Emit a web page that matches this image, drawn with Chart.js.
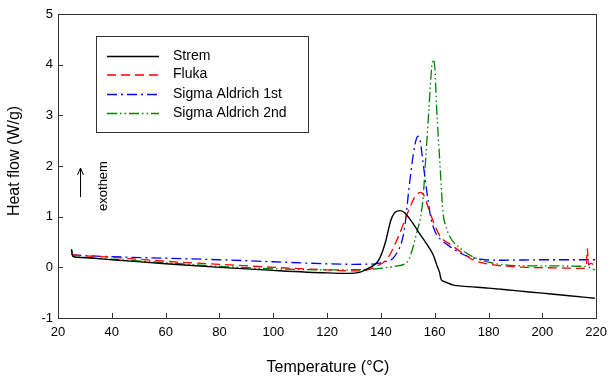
<!DOCTYPE html>
<html>
<head>
<meta charset="utf-8">
<script src="https://cdn.jsdelivr.net/npm/chart.js"></script>
<style>
html,body{margin:0;padding:0;background:#fff;}
</style>
</head>
<body>
<canvas id="graphCanvas" width="614" height="380"></canvas>
<script>
// tick values
var xTicks = [20, 40, 60, 80, 100, 120, 140, 160, 180, 200, 220];
var yTicks = [-1, 0, 1, 2, 3, 4, 5];

// Strem
var stremT  = [25, 25.5, 27, 40, 60, 80, 100, 120, 128, 132, 135, 137, 138.8, 140.5, 141.9, 143.7, 145, 147.2, 149, 150.5, 152.4, 154.2, 156, 157.8, 159.5, 161, 161.8, 162.4, 163.5, 167, 170, 180, 190, 200, 210, 219.5];
var stremHF = [0.35, 0.22, 0.2, 0.15, 0.07, 0.0, -0.06, -0.11, -0.12, -0.1, -0.03, 0.03, 0.11, 0.3, 0.54, 0.93, 1.07, 1.12, 1.07, 0.97, 0.83, 0.68, 0.54, 0.4, 0.24, 0.01, -0.1, -0.24, -0.28, -0.35, -0.37, -0.41, -0.46, -0.51, -0.56, -0.61];

// Fluka
var flukaT  = [25, 27, 40, 60, 80, 100, 120, 130, 135, 138.8, 142.5, 146.2, 149.9, 152.5, 153.8, 154.8, 156, 157.3, 159.7, 162.2, 165.9, 169.6, 174.5, 181.9, 194, 205, 215, 216.3, 216.7, 217.2, 218, 219.6];
var flukaHF = [0.26, 0.24, 0.2, 0.12, 0.06, 0.0, -0.05, -0.07, -0.05, 0.03, 0.18, 0.57, 1.07, 1.38, 1.46, 1.48, 1.42, 1.23, 0.87, 0.6, 0.45, 0.31, 0.14, 0.05, 0.0, -0.01, -0.02, 0.0, 0.37, 0.05, 0.08, 0.03];

// Sigma Aldrich 1st
var sigma1T  = [25, 27, 40, 60, 80, 100, 120, 130, 138, 142, 145, 148.7, 150.5, 152.1, 153.1, 153.8, 154.6, 155.4, 157, 158.5, 160, 162.2, 164.6, 167, 172, 177, 185, 200, 219.6];
var sigma1HF = [0.25, 0.24, 0.21, 0.18, 0.15, 0.11, 0.07, 0.06, 0.07, 0.12, 0.21, 0.74, 1.59, 2.25, 2.52, 2.59, 2.5, 2.18, 1.52, 1.0, 0.72, 0.55, 0.45, 0.36, 0.22, 0.16, 0.14, 0.15, 0.15];

// Sigma Aldrich 2nd
var sigma2T  = [25, 25.5, 27, 40, 60, 80, 100, 120, 135, 145, 149.9, 151.1, 153.6, 154.8, 155.7, 156.7, 157.9, 158.9, 159.5, 160.1, 160.7, 162, 163.1, 164.1, 165.9, 169.6, 174.5, 181.9, 194, 215.8, 219.6];
var sigma2HF = [0.36, 0.22, 0.2, 0.16, 0.09, 0.02, -0.03, -0.05, -0.04, 0.02, 0.11, 0.25, 0.74, 1.0, 1.39, 2.18, 3.17, 3.95, 4.1, 3.9, 3.17, 1.99, 1.07, 0.82, 0.58, 0.37, 0.2, 0.08, 0.03, 0.02, -0.05];

var seriesNames = ['Strem', 'Fluka', 'Sigma Aldrich 1st', 'Sigma Aldrich 2nd'];

function toPoints(t, v) {
  var pts = [];
  for (var i = 0; i < t.length; i++) {
    pts.push({x: t[i], y: v[i]});
  }
  return pts;
}

var FONT = '"Liberation Sans", Arial, sans-serif';

var datasets = [
  {label: seriesNames[0], data: toPoints(stremT, stremHF), borderColor: '#000000', borderWidth: 1.4, borderDash: []},
  {label: seriesNames[1], data: toPoints(flukaT, flukaHF), borderColor: '#ff0000', borderWidth: 1.3, borderDash: [9, 5]},
  {label: seriesNames[2], data: toPoints(sigma1T, sigma1HF), borderColor: '#0000ff', borderWidth: 1.3, borderDash: [10, 4, 2, 4]},
  {label: seriesNames[3], data: toPoints(sigma2T, sigma2HF), borderColor: '#008000', borderWidth: 1.3, borderDash: [10, 3, 1.5, 3, 1.5, 3]}
];
for (var d = 0; d < datasets.length; d++) {
  datasets[d].showLine = true;
  datasets[d].pointRadius = 0;
  datasets[d].fill = false;
  datasets[d].cubicInterpolationMode = 'monotone';
}

var frameAndNotes = {
  id: 'frameAndNotes',
  afterDraw: function (chart) {
    var ctx = chart.ctx;
    var a = chart.chartArea;
    var xs = chart.scales.x;
    var ys = chart.scales.y;
    ctx.save();
    ctx.strokeStyle = '#333';
    ctx.lineWidth = 1;
    ctx.setLineDash([]);
    ctx.strokeRect(Math.round(a.left) + 0.5, Math.round(a.top) + 0.5, Math.round(a.right - a.left), Math.round(a.bottom - a.top));

    // inward ticks
    ctx.beginPath();
    for (var i = 1; i < xTicks.length - 1; i++) {
      var px = Math.round(xs.getPixelForValue(xTicks[i])) + 0.5;
      ctx.moveTo(px, a.bottom);
      ctx.lineTo(px, a.bottom - 5);
    }
    for (var j = 1; j < yTicks.length - 1; j++) {
      var py = Math.round(ys.getPixelForValue(yTicks[j])) + 0.5;
      ctx.moveTo(a.left, py);
      ctx.lineTo(a.left + 5, py);
    }
    ctx.stroke();

    // axis titles
    ctx.fillStyle = '#000';
    ctx.font = '16px ' + FONT;
    ctx.textAlign = 'center';
    ctx.textBaseline = 'middle';
    ctx.fillText('Temperature (\u00B0C)', 328, 368);
    ctx.save();
    ctx.translate(15, 161);
    ctx.rotate(-Math.PI / 2);
    ctx.fillText('Heat flow (W/g)', 0, 0);
    ctx.restore();

    // exotherm arrow
    ctx.strokeStyle = '#000';
    ctx.beginPath();
    ctx.moveTo(80.5, 197);
    ctx.lineTo(80.5, 168);
    ctx.moveTo(77.5, 175);
    ctx.lineTo(80.5, 168);
    ctx.lineTo(83.5, 175);
    ctx.stroke();
    ctx.save();
    ctx.translate(103, 186);
    ctx.rotate(-Math.PI / 2);
    ctx.font = '13px ' + FONT;
    ctx.fillText('exothem', 0, 0);
    ctx.restore();

    // legend
    ctx.fillStyle = '#fff';
    ctx.fillRect(96.5, 36.5, 212, 96);
    ctx.strokeStyle = '#333';
    ctx.strokeRect(96.5, 36.5, 212, 96);
    var rows = [56, 74.5, 94, 113];
    ctx.font = '14px ' + FONT;
    ctx.textAlign = 'left';
    for (var k = 0; k < datasets.length; k++) {
      ctx.strokeStyle = datasets[k].borderColor;
      ctx.lineWidth = datasets[k].borderWidth;
      ctx.setLineDash(datasets[k].borderDash);
      ctx.beginPath();
      ctx.moveTo(107, rows[k] + 0.5);
      ctx.lineTo(159, rows[k] + 0.5);
      ctx.stroke();
      ctx.fillStyle = '#000';
      ctx.fillText(seriesNames[k], 173, rows[k]);
    }
    ctx.restore();
  }
};

var graphTarget = document.getElementById('graphCanvas');
window.bar = new Chart(graphTarget, {
  type: 'scatter',
  data: {datasets: datasets},
  plugins: [frameAndNotes],
  options: {
    responsive: false,
    animation: false,
    devicePixelRatio: 1,
    layout: {padding: {top: 14, right: 14, left: 0, bottom: 0}},
    plugins: {
      legend: {display: false},
      tooltip: {enabled: false}
    },
    scales: {
      x: {
        type: 'linear',
        min: 20,
        max: 220,
        afterFit: function (scale) { scale.height = 62; },
        afterBuildTicks: function (scale) {
          scale.ticks = xTicks.map(function (v) { return {value: v}; });
        },
        grid: {display: false, drawTicks: false},
        border: {display: false},
        ticks: {color: '#000', padding: 7, font: {size: 13, family: FONT}, maxRotation: 0}
      },
      y: {
        type: 'linear',
        min: -1,
        max: 5,
        afterFit: function (scale) { scale.width = 58; },
        afterBuildTicks: function (scale) {
          scale.ticks = yTicks.map(function (v) { return {value: v}; });
        },
        grid: {display: false, drawTicks: false},
        border: {display: false},
        ticks: {color: '#000', padding: 5, font: {size: 13, family: FONT}}
      }
    }
  }
});
</script>
</body>
</html>
